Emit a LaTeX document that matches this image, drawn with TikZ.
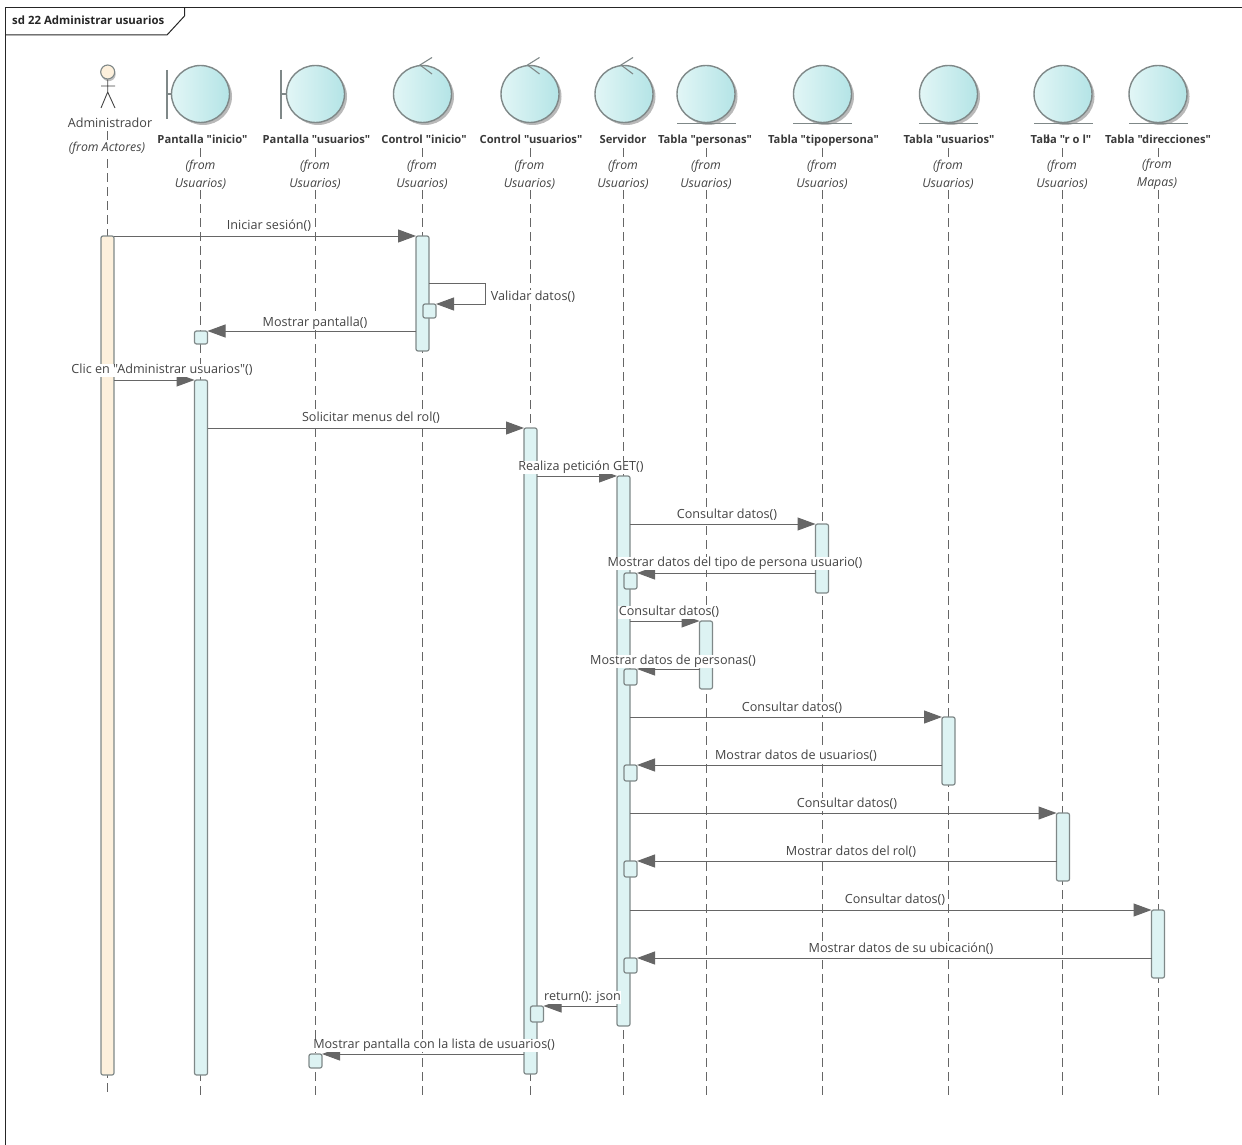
\documentclass[tikz,border=0pt]{standalone}
\usepackage{fontspec}
\newfontfamily\uifont{Open Sans}
\usetikzlibrary{arrows.meta,shapes.geometric}
\definecolor{ink}{HTML}{444444}
\definecolor{line}{HTML}{666666}
\definecolor{edge}{HTML}{7F8888}
\definecolor{barfill}{HTML}{DDF3F3}
\definecolor{actfill}{HTML}{FDF0DC}
\definecolor{ballL}{HTML}{E2F6F6}
\definecolor{ballR}{HTML}{B4E4E6}
\tikzset{
  lifeline/.style={draw=line,line width=0.9pt,dash pattern=on 9pt off 5pt},
  ballbase/.style={ellipse,inner sep=0,outer sep=0,minimum width=58pt,minimum height=57pt},
  ball/.style={ballbase,draw=edge,line width=1.4pt,left color=ballL,right color=ballR},
  ballshadow/.style={ballbase,fill=gray!55},
  glyph/.style={draw=edge,line width=1.1pt},
  actbar/.style={draw=edge,line width=1.2pt,fill=barfill,rounded corners=2pt,inner sep=0,outer sep=0,anchor=north,minimum width=13pt},
  msg/.style={draw=line,line width=1pt,-{Triangle[length=18pt,width=13pt,fill=line]}},
  msglabel/.style={fill=white,inner sep=0.6pt,yshift=-1.5pt,text height=9.5pt,text depth=3pt,text=ink,font=\uifont\fontsize{12.6}{14}\selectfont},
  headname/.style={fill=white,inner sep=0.8pt,yshift=-1.2pt,text height=9.5pt,text depth=3pt,text=ink!85!black,font=\uifont\fontsize{11.2}{14}\selectfont\bfseries},
  fromlabel/.style={fill=white,inner sep=0.8pt,yshift=-1.4pt,text=ink,align=center,font=\uifont\fontsize{12.3}{18}\selectfont\itshape},
}
\newcommand{\lifelineat}[2]{\coordinate (t#1) at (#2,148); \coordinate (b#1) at (#2,1095); \draw[lifeline] (t#1) -- (b#1);}
\newcommand{\actbox}[5][]{\node[actbar,#1,minimum height={(#5-#4)*1pt}] (#2) at (#3,#4) {};}
\newcommand{\headball}[3]{\node[ballshadow] at (#2+2.5,96.5) {}; \node[ball] (#1) at (#2,#3) {};}
\begin{document}
\begin{tikzpicture}[x=1pt,y=-1pt]
\useasboundingbox (0,0) rectangle (1242,1145);
% frame
\coordinate (fTL) at (5.5,7.5);
\coordinate (fTR) at (1242,7.5);
\coordinate (fBL) at (5.5,1145);
\draw[black!85,line width=1pt] (fBL) -- (fTL) -- (fTR);
\draw[black!85,line width=1pt] (184.5,7.5) -- (184.5,16) -- (167,35) -- (5.5,35);
\node[anchor=west,inner sep=0,text=black!85,font=\uifont\fontsize{11.4}{14}\selectfont\bfseries] (frameTitle) at (12,20.5) {sd 22 Administrar usuarios};
% lifelines
\coordinate (tAdmin) at (107.5,131); \coordinate (bAdmin) at (107.5,1095); \draw[lifeline] (tAdmin) -- (bAdmin);
\lifelineat{PI}{200.5}
\lifelineat{PU}{315.5}
\lifelineat{CI}{422.5}
\lifelineat{CU}{530}
\lifelineat{SV}{623.5}
\lifelineat{TP}{706.5}
\lifelineat{TT}{822.5}
\lifelineat{TU}{948.5}
\lifelineat{TR}{1062.5}
\lifelineat{TD}{1158.5}
% actor
\node[circle,fill=gray!50,inner sep=0,minimum size=14pt] at (108.7,74.2) {};
\node[circle,draw=edge,line width=1.1pt,fill=actfill,inner sep=0,minimum size=14pt] (actorHead) at (107.7,72) {};
\draw[glyph,line width=0.9pt,draw=ink] (actorHead.south) -- (107.7,92) -- (101,108) (107.7,92) -- (115,108) (101,86) -- (115,86);
% heads
\headball{hPI}{200.5}{94}
\headball{hPU}{315.5}{94}
\headball{hCI}{422.5}{94}
\headball{hCU}{530}{94}
\headball{hSV}{624}{94}
\headball{hTP}{706}{94}
\headball{hTT}{822.5}{94}
\headball{hTU}{948.5}{94}
\headball{hTR}{1063}{94}
\headball{hTD}{1158}{94}
% boundary glyphs
\draw[glyph] (167,70) -- (167,119) (167,94) -- (hPI.west);
\draw[glyph] (281,70) -- (281,119) (281,94) -- (hPU.west);
% control glyphs
\draw[glyph] (432,57.5) -- (420,65) -- (432,74);
\draw[glyph] (539.5,57.5) -- (527.5,65) -- (539.5,74);
\draw[glyph] (633,57.5) -- (621,65) -- (633,74);
% entity glyphs
\draw[glyph] (677,123.5) -- (736,123.5);
\draw[glyph] (793,123.5) -- (852,123.5);
\draw[glyph] (919,123.5) -- (978,123.5);
\draw[glyph] (1034,123.5) -- (1093,123.5);
\draw[glyph] (1129,123.5) -- (1188,123.5);
% activation bars
\actbox[fill=actfill]{aAdmin}{107.5}{236}{1075}
\actbox{aPI}{201}{380}{1075}
\actbox{aCI}{422.5}{236}{351}
\actbox{sCI}{429.5}{304}{318}
\actbox{sPI}{201}{331}{344}
\actbox{aCU}{530.5}{428}{1074}
\actbox{aSV}{623.5}{476}{1026}
\actbox{aTT}{822}{524}{593}
\actbox{sS1}{630.5}{573}{589}
\actbox{aTP}{706}{621}{689}
\actbox{sS2}{630.5}{669}{685}
\actbox{aTU}{948.5}{717}{785}
\actbox{sS3}{630.5}{765}{781}
\actbox{aTR}{1063}{813}{881}
\actbox{sS4}{630.5}{861}{877}
\actbox{aTD}{1158}{910}{978}
\actbox{sS5}{630.5}{958}{973}
\actbox{sCU}{537}{1006}{1022}
\actbox{sPU}{315.5}{1054}{1068}
% messages
\coordinate (selfTurn) at (485.5,283);
\draw[msg] (aAdmin.north east) -- (aCI.north west);
\draw[msg] (aCI.east |- selfTurn) -- (selfTurn) -- (selfTurn |- sCI.north) -- (sCI.north east);
\draw[msg] (aCI.west |- sPI.north) -- (sPI.north east);
\draw[msg] (aAdmin.east |- aPI.north) -- (aPI.north west);
\draw[msg] (aPI.east |- aCU.north) -- (aCU.north west);
\draw[msg] (aCU.east |- aSV.north) -- (aSV.north west);
\draw[msg] (aSV.east |- aTT.north) -- (aTT.north west);
\draw[msg] (aTT.west |- sS1.north) -- (sS1.north east);
\draw[msg] (aSV.east |- aTP.north) -- (aTP.north west);
\draw[msg] (aTP.west |- sS2.north) -- (sS2.north east);
\draw[msg] (aSV.east |- aTU.north) -- (aTU.north west);
\draw[msg] (aTU.west |- sS3.north) -- (sS3.north east);
\draw[msg] (aSV.east |- aTR.north) -- (aTR.north west);
\draw[msg] (aTR.west |- sS4.north) -- (sS4.north east);
\draw[msg] (aSV.east |- aTD.north) -- (aTD.north west);
\draw[msg] (aTD.west |- sS5.north) -- (sS5.north east);
\draw[msg] (aSV.west |- sCU.north) -- (sCU.north east);
\draw[msg] (aCU.west |- sPU.north) -- (sPU.north east);
% message labels
\node[msglabel] (m1) at (269,225) {Iniciar sesión()};
\node[msglabel] (m2) at (533,295.5) {Validar datos()};
\node[msglabel] (m3) at (315,321.5) {Mostrar pantalla()};
\node[msglabel] (m4) at (162,369) {Clic en "Administrar usuarios"()};
\node[msglabel] (m5) at (371,417) {Solicitar menus del rol()};
\node[msglabel] (m6) at (581,466) {Realiza petición GET()};
\node[msglabel] (m7) at (727,514) {Consultar datos()};
\node[msglabel] (m8) at (735,562) {Mostrar datos del tipo de persona usuario()};
\node[msglabel] (m9) at (669,611) {Consultar datos()};
\node[msglabel] (m10) at (673,660) {Mostrar datos de personas()};
\node[msglabel] (m11) at (792,707) {Consultar datos()};
\node[msglabel] (m12) at (796,755) {Mostrar datos de usuarios()};
\node[msglabel] (m13) at (847,803) {Consultar datos()};
\node[msglabel] (m14) at (851,851) {Mostrar datos del rol()};
\node[msglabel] (m15) at (895,899) {Consultar datos()};
\node[msglabel] (m16) at (901,948) {Mostrar datos de su ubicación()};
\node[msglabel] (m17) at (582.5,996) {return(): json};
\node[msglabel] (m18) at (434,1044) {Mostrar pantalla con la lista de usuarios()};
% head names
\node[msglabel] (nAdmin) at (110,122.5) {Administrador};
\node[fromlabel] (fAdmin) at (107,147) {(from Actores)};
\node[headname] (nPI) at (202.5,139) {Pantalla "inicio"};
\node[headname] (nPU) at (316.5,139) {Pantalla "usuarios"};
\node[headname] (nCI) at (424,139) {Control "inicio"};
\node[headname] (nCU) at (531,139) {Control "usuarios"};
\node[headname] (nSV) at (623,139) {Servidor};
\node[headname] (nTP) at (705,139) {Tabla "personas"};
\node[headname] (nTT) at (823.5,139) {Tabla "tipopersona"};
\node[headname] (nTU) at (949,139) {Tabla "usuarios"};
\node[headname] (nTR) at (1061,139) {Tab\kern-3.5pt la "r o l"};
\node[headname] (nTD) at (1158,139) {Tabla "direcciones"};
\node[fromlabel] (fPI) at (200.5,173) {(from\\Usuarios)};
\node[fromlabel] (fPU) at (315,173) {(from\\Usuarios)};
\node[fromlabel] (fCI) at (422,173) {(from\\Usuarios)};
\node[fromlabel] (fCU) at (529.5,173) {(from\\Usuarios)};
\node[fromlabel] (fSV) at (623,173) {(from\\Usuarios)};
\node[fromlabel] (fTP) at (706,173) {(from\\Usuarios)};
\node[fromlabel] (fTT) at (822,173) {(from\\Usuarios)};
\node[fromlabel] (fTU) at (948,173) {(from\\Usuarios)};
\node[fromlabel] (fTR) at (1062,173) {(from\\Usuarios)};
\node[fromlabel] (fTD) at (1157,173) {(from\\Mapas)};
\end{tikzpicture}
\end{document}
